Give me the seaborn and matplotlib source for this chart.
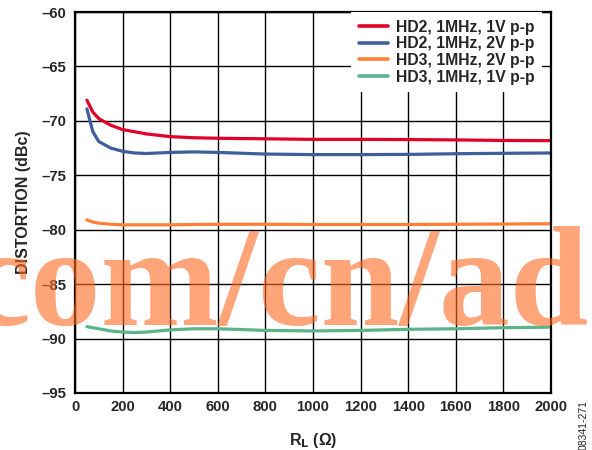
import numpy as np
import pandas as pd
import matplotlib
matplotlib.use("Agg")
import matplotlib.pyplot as plt
import seaborn as sns

# Load resistance (ohms)
r_load = [50, 75, 100, 150, 200, 250, 300, 400, 500, 600, 800, 1000, 1200, 1400, 1600, 1800, 2000]

# Distortion (dBc) per series
hd2_1v = [-68.1, -69.2, -69.8, -70.4, -70.8, -71.0, -71.2, -71.45, -71.55, -71.6, -71.65, -71.7, -71.7, -71.72, -71.75, -71.8, -71.82]
hd2_2v = [-68.9, -71.0, -71.9, -72.5, -72.8, -72.95, -73.0, -72.9, -72.85, -72.9, -73.05, -73.1, -73.1, -73.08, -73.02, -72.98, -72.95]
hd3_2v = [-79.1, -79.3, -79.4, -79.5, -79.55, -79.55, -79.55, -79.55, -79.52, -79.5, -79.5, -79.52, -79.52, -79.52, -79.5, -79.48, -79.45]
hd3_1v = [-88.9, -89.0, -89.1, -89.3, -89.4, -89.45, -89.4, -89.2, -89.1, -89.1, -89.25, -89.3, -89.25, -89.15, -89.1, -89.0, -88.95]

series_names = ["HD2, 1MHz, 1V p-p", "HD2, 1MHz, 2V p-p", "HD3, 1MHz, 2V p-p", "HD3, 1MHz, 1V p-p"]
series_colors = ["#e2002b", "#3d5f9b", "#ff8035", "#5bb38a"]

x_ticks = [0, 200, 400, 600, 800, 1000, 1200, 1400, 1600, 1800, 2000]
y_ticks = [-95, -90, -85, -80, -75, -70, -65, -60]

frames = []
for name, vals in zip(series_names, [hd2_1v, hd2_2v, hd3_2v, hd3_1v]):
    frames.append(pd.DataFrame({"RL": r_load, "dist": vals, "series": name}))
df = pd.concat(frames, ignore_index=True)

sns.set_style("white")
plt.rcParams["font.family"] = ["Liberation Sans", "DejaVu Sans"]

W, H = 592, 450
fig = plt.figure(figsize=(W / 100, H / 100), dpi=100)
ax = fig.add_axes([75 / W, 1 - 393 / H, 476 / W, 381 / H])

sns.lineplot(data=df, x="RL", y="dist", hue="series", hue_order=series_names,
             palette=series_colors, linewidth=2.3, ax=ax, estimator=None, sort=True)

ax.set_xlim(0, 2000)
ax.set_ylim(-95, -60)
ax.set_xticks(x_ticks)
ax.set_yticks(y_ticks)
ax.set_xticklabels([str(t) for t in x_ticks], fontsize=10.7, fontweight="bold")
ax.set_yticklabels(["\u2013" + str(abs(t)) for t in y_ticks], fontsize=10.7, fontweight="bold")
ax.tick_params(axis="x", length=0, pad=5)
ax.tick_params(axis="y", length=0, pad=6)
ax.grid(True, color="black", linewidth=1.0)
for s in ax.spines.values():
    s.set_color("black")
    s.set_linewidth(1.6)

ax.set_xlabel("R$_\\mathbf{L}$ (\u03a9)", fontsize=11.5, fontweight="bold", labelpad=12)
ax.set_ylabel("DISTORTION (dBc)", fontsize=11.5, fontweight="bold", labelpad=8)

leg = ax.legend(loc="upper right", bbox_to_anchor=((542 - 75) / 476, 1.0),
                frameon=True, fancybox=False, framealpha=1.0,
                edgecolor="white", borderpad=0.5, handlelength=1.9, handletextpad=0.45,
                labelspacing=0.1, borderaxespad=0.0,
                prop={"weight": "bold", "size": 11.3})
leg.get_frame().set_linewidth(0)
for line in leg.get_lines():
    line.set_linewidth(2.6)

# Watermark across the plot
fig.text(-33 / W, 1 - 325 / H, "com/cn/ad", fontsize=102, fontweight="bold",
         family=["Liberation Serif", "DejaVu Serif"], color="#ff6a20", alpha=0.6,
         ha="left", va="baseline", zorder=10)

fig.text(584 / W, 1 - 425 / H, "08341-271", fontsize=7.5, rotation=90,
         ha="center", va="center")

fig.savefig("out.png", dpi=100)
